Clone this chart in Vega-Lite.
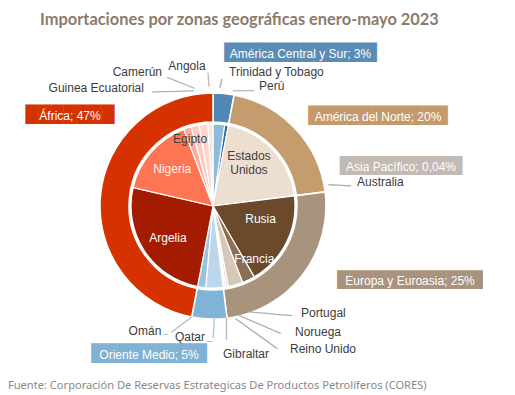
{
  "$schema": "https://vega.github.io/schema/vega-lite/v6.json",
  "autosize": {"type": "pad"},
  "padding": {"left": 0, "top": 11, "right": 0, "bottom": 0},
  "background": "white",
  "title": {"text": "Importaciones por zonas geográficas enero-mayo 2023", "anchor": "start", "dx": 40, "font": "Lato", "fontSize": 16.4, "fontWeight": "bold", "color": "#8b7b6b", "offset": 16},
  "config": {"view": {"stroke": null}, "concat": {"spacing": 0}},
  "datasets": {
    "regions": [
      {"n": 1, "name": "América Central y Sur", "pct": 3, "label": "América Central y Sur; 3%"},
      {"n": 2, "name": "América del Norte", "pct": 20, "label": "América del Norte; 20%"},
      {"n": 3, "name": "Asia Pacífico", "pct": 0.04, "label": "Asia Pacífico; 0,04%"},
      {"n": 4, "name": "Europa y Euroasia", "pct": 25, "label": "Europa y Euroasia; 25%"},
      {"n": 5, "name": "Oriente Medio", "pct": 5, "label": "Oriente Medio; 5%"},
      {"n": 6, "name": "África", "pct": 47, "label": "África; 47%"}
    ],
    "countries": [
      {"n": 1, "name": "Trinidad y Tobago", "region": "América Central y Sur", "pct": 2.3},
      {"n": 2, "name": "Perú", "region": "América Central y Sur", "pct": 0.7},
      {"n": 3, "name": "Estados Unidos", "region": "América del Norte", "pct": 20},
      {"n": 4, "name": "Australia", "region": "Asia Pacífico", "pct": 0.04},
      {"n": 5, "name": "Rusia", "region": "Europa y Euroasia", "pct": 18.6},
      {"n": 6, "name": "Francia", "region": "Europa y Euroasia", "pct": 2.5},
      {"n": 7, "name": "Portugal", "region": "Europa y Euroasia", "pct": 2.9},
      {"n": 8, "name": "Noruega", "region": "Europa y Euroasia", "pct": 0.5},
      {"n": 9, "name": "Reino Unido", "region": "Europa y Euroasia", "pct": 0.3},
      {"n": 10, "name": "Gibraltar", "region": "Europa y Euroasia", "pct": 0.2},
      {"n": 11, "name": "Qatar", "region": "Oriente Medio", "pct": 3.4},
      {"n": 12, "name": "Omán", "region": "Oriente Medio", "pct": 1.6},
      {"n": 13, "name": "Argelia", "region": "África", "pct": 25.6},
      {"n": 14, "name": "Nigeria", "region": "África", "pct": 15.6},
      {"n": 15, "name": "Egipto", "region": "África", "pct": 1.5},
      {"n": 16, "name": "Guinea Ecuatorial", "region": "África", "pct": 1.6},
      {"n": 17, "name": "Camerún", "region": "África", "pct": 1.7},
      {"n": 18, "name": "Angola", "region": "África", "pct": 1.0}
    ]
  },
  "vconcat": [
    {
      "width": 426,
      "height": 324,
      "title": {"text": "Fuente: Corporación De Reservas Estrategicas De Productos Petrolíferos (CORES)", "orient": "bottom", "anchor": "start", "dx": 8, "font": "Noto Sans", "fontSize": 11.1, "fontWeight": "normal", "color": "#8a8784", "offset": 12},
      "layer": [
        {"data": {"name": "regions"}, "mark": {"type": "arc", "innerRadius": 84, "outerRadius": 113, "stroke": "#ffffff", "strokeWidth": 1.5},
         "encoding": {"theta": {"field": "pct", "type": "quantitative", "stack": true}, "order": {"field": "n", "type": "quantitative"},
           "color": {"field": "name", "type": "nominal", "legend": null, "scale": {
             "domain": ["América Central y Sur", "América del Norte", "Asia Pacífico", "Europa y Euroasia", "Oriente Medio", "África", "Trinidad y Tobago", "Perú", "Estados Unidos", "Australia", "Rusia", "Francia", "Portugal", "Noruega", "Reino Unido", "Gibraltar", "Qatar", "Omán", "Argelia", "Nigeria", "Egipto", "Guinea Ecuatorial", "Camerún", "Angola"],
             "range": ["#4f88b4", "#c59c6d", "#bdb5ad", "#a8937d", "#80b3d6", "#d63200", "#8fbad9", "#2d6a9a", "#eddfd0", "#bdb5ad", "#6a4a2b", "#8c6e51", "#d6c8b9", "#e9dfd5", "#c8b7a5", "#f0e8e0", "#bcd7eb", "#98c2e0", "#a31b00", "#ff7452", "#f8ad9e", "#fbcbc0", "#fcd6cd", "#fde5df"]}}}},
        {"data": {"name": "countries"}, "mark": {"type": "arc", "outerRadius": 82, "stroke": "#ffffff", "strokeWidth": 1.2},
         "encoding": {"theta": {"field": "pct", "type": "quantitative", "stack": true}, "order": {"field": "n", "type": "quantitative"},
           "color": {"field": "name", "type": "nominal", "legend": null}}},

        {"data": {"name": "countries"}, "mark": {"type": "text", "radius": 52, "dx": -2, "dy": -14, "align": "center", "baseline": "middle", "font": "Liberation Sans", "fontSize": 12, "fill": "#404040", "lineBreak": " ", "lineHeight": 14},
         "encoding": {"theta": {"field": "pct", "type": "quantitative", "stack": true}, "order": {"field": "n", "type": "quantitative"}, "text": {"field": "name"}, "opacity": {"condition": {"test": "datum.name === 'Estados Unidos'", "value": 1}, "value": 0}}},
        {"data": {"name": "countries"}, "mark": {"type": "text", "radius": 52, "dx": 1, "dy": -10.5, "align": "center", "baseline": "middle", "font": "Liberation Sans", "fontSize": 12, "fill": "#ffffff"},
         "encoding": {"theta": {"field": "pct", "type": "quantitative", "stack": true}, "order": {"field": "n", "type": "quantitative"}, "text": {"field": "name"}, "opacity": {"condition": {"test": "datum.name === 'Rusia'", "value": 1}, "value": 0}}},
        {"data": {"name": "countries"}, "mark": {"type": "text", "radius": 70, "dx": 11, "dy": -10, "align": "center", "baseline": "middle", "font": "Liberation Sans", "fontSize": 12, "fill": "#ffffff"},
         "encoding": {"theta": {"field": "pct", "type": "quantitative", "stack": true}, "order": {"field": "n", "type": "quantitative"}, "text": {"field": "name"}, "opacity": {"condition": {"test": "datum.name === 'Francia'", "value": 1}, "value": 0}}},
        {"data": {"name": "countries"}, "mark": {"type": "text", "radius": 55, "dx": 1, "dy": 2, "align": "center", "baseline": "middle", "font": "Liberation Sans", "fontSize": 12, "fill": "#ffffff"},
         "encoding": {"theta": {"field": "pct", "type": "quantitative", "stack": true}, "order": {"field": "n", "type": "quantitative"}, "text": {"field": "name"}, "opacity": {"condition": {"test": "datum.name === 'Argelia'", "value": 1}, "value": 0}}},
        {"data": {"name": "countries"}, "mark": {"type": "text", "radius": 54, "dx": 0, "dy": -1.5, "align": "center", "baseline": "middle", "font": "Liberation Sans", "fontSize": 12, "fill": "#fff4f0"},
         "encoding": {"theta": {"field": "pct", "type": "quantitative", "stack": true}, "order": {"field": "n", "type": "quantitative"}, "text": {"field": "name"}, "opacity": {"condition": {"test": "datum.name === 'Nigeria'", "value": 1}, "value": 0}}},
        {"data": {"name": "countries"}, "mark": {"type": "text", "radius": 67, "dx": -2, "dy": -3, "align": "center", "baseline": "middle", "font": "Liberation Sans", "fontSize": 12, "fill": "#404040"},
         "encoding": {"theta": {"field": "pct", "type": "quantitative", "stack": true}, "order": {"field": "n", "type": "quantitative"}, "text": {"field": "name"}, "opacity": {"condition": {"test": "datum.name === 'Egipto'", "value": 1}, "value": 0}}},

        {"data": {"name": "countries"}, "transform": [{"stack": "pct", "groupby": [], "sort": [{"field": "n", "order": "ascending"}], "as": ["s0", "s1"]}, {"filter": "datum.name === 'Guinea Ecuatorial'"}],
         "mark": {"type": "text", "radius": 125, "dx": -6.87, "dy": 5.68, "angle": 358.2, "align": "center", "baseline": "middle", "font": "DejaVu Sans", "fontSize": 11.67, "fill": "#a8a8a8"},
         "encoding": {"theta": {"field": "s0", "type": "quantitative", "stack": null}, "text": {"value": "──────"}}},
        {"data": {"name": "countries"}, "transform": [{"stack": "pct", "groupby": [], "sort": [{"field": "n", "order": "ascending"}], "as": ["s0", "s1"]}, {"filter": "datum.name === 'Camerún'"}],
         "mark": {"type": "text", "radius": 125, "dx": -10.33, "dy": 4.31, "angle": 21.7, "align": "center", "baseline": "middle", "font": "DejaVu Sans", "fontSize": 12.29, "fill": "#a8a8a8"},
         "encoding": {"theta": {"field": "s0", "type": "quantitative", "stack": null}, "text": {"value": "────"}}},
        {"data": {"name": "countries"}, "transform": [{"stack": "pct", "groupby": [], "sort": [{"field": "n", "order": "ascending"}], "as": ["s0", "s1"]}, {"filter": "datum.name === 'Angola'"}],
         "mark": {"type": "text", "radius": 125, "dx": -1.32, "dy": -2.44, "angle": 85.4, "align": "center", "baseline": "middle", "font": "DejaVu Sans", "fontSize": 11.4, "fill": "#a8a8a8"},
         "encoding": {"theta": {"field": "s0", "type": "quantitative", "stack": null}, "text": {"value": "──"}}},
        {"data": {"name": "countries"}, "transform": [{"stack": "pct", "groupby": [], "sort": [{"field": "n", "order": "ascending"}], "as": ["s0", "s1"]}, {"filter": "datum.name === 'Trinidad y Tobago'"}],
         "mark": {"type": "text", "radius": 125, "dx": 0.43, "dy": -7.25, "angle": 102.5, "align": "center", "baseline": "middle", "font": "DejaVu Sans", "fontSize": 14.4, "fill": "#a8a8a8"},
         "encoding": {"theta": {"field": "s0", "type": "quantitative", "stack": null}, "text": {"value": "─"}}},
        {"data": {"name": "countries"}, "transform": [{"stack": "pct", "groupby": [], "sort": [{"field": "n", "order": "ascending"}], "as": ["s0", "s1"]}, {"filter": "datum.name === 'Perú'"}],
         "mark": {"type": "text", "radius": 125, "dx": 12.5, "dy": 8.6, "angle": 0, "align": "center", "baseline": "middle", "font": "DejaVu Sans", "fontSize": 11.67, "fill": "#a8a8a8"},
         "encoding": {"theta": {"field": "s0", "type": "quantitative", "stack": null}, "text": {"value": "───"}}},
        {"data": {"name": "countries"}, "transform": [{"stack": "pct", "groupby": [], "sort": [{"field": "n", "order": "ascending"}], "as": ["s0", "s1"]}, {"filter": "datum.name === 'Australia'"}],
         "mark": {"type": "text", "radius": 125, "dx": 2.19, "dy": -4.8, "angle": 3.35, "align": "center", "baseline": "middle", "font": "DejaVu Sans", "fontSize": 12.56, "fill": "#a8a8a8"},
         "encoding": {"theta": {"field": "s0", "type": "quantitative", "stack": null}, "text": {"value": "───"}}},
        {"data": {"name": "countries"}, "transform": [{"stack": "pct", "groupby": [], "sort": [{"field": "n", "order": "ascending"}], "as": ["s0", "s1"]}, {"filter": "datum.name === 'Portugal'"}],
         "mark": {"type": "text", "radius": 125, "dx": 10.23, "dy": -9.49, "angle": 4.9, "align": "center", "baseline": "middle", "font": "DejaVu Sans", "fontSize": 12.65, "fill": "#a8a8a8"},
         "encoding": {"theta": {"field": "s0", "type": "quantitative", "stack": null}, "text": {"value": "──────"}}},
        {"data": {"name": "countries"}, "transform": [{"stack": "pct", "groupby": [], "sort": [{"field": "n", "order": "ascending"}], "as": ["s0", "s1"]}, {"filter": "datum.name === 'Noruega'"}],
         "mark": {"type": "text", "radius": 125, "dx": 19.94, "dy": -13.05, "angle": 23.57, "align": "center", "baseline": "middle", "font": "DejaVu Sans", "fontSize": 12.6, "fill": "#a8a8a8"},
         "encoding": {"theta": {"field": "s0", "type": "quantitative", "stack": null}, "text": {"value": "──────"}}},
        {"data": {"name": "countries"}, "transform": [{"stack": "pct", "groupby": [], "sort": [{"field": "n", "order": "ascending"}], "as": ["s0", "s1"]}, {"filter": "datum.name === 'Reino Unido'"}],
         "mark": {"type": "text", "radius": 125, "dx": 22.02, "dy": -10.43, "angle": 35.77, "align": "center", "baseline": "middle", "font": "DejaVu Sans", "fontSize": 12.17, "fill": "#a8a8a8"},
         "encoding": {"theta": {"field": "s0", "type": "quantitative", "stack": null}, "text": {"value": "───────"}}},
        {"data": {"name": "countries"}, "transform": [{"stack": "pct", "groupby": [], "sort": [{"field": "n", "order": "ascending"}], "as": ["s0", "s1"]}, {"filter": "datum.name === 'Gibraltar'"}],
         "mark": {"type": "text", "radius": 125, "dx": -1.3, "dy": 3.9, "angle": 90, "align": "center", "baseline": "middle", "font": "DejaVu Sans", "fontSize": 12.28, "fill": "#a8a8a8"},
         "encoding": {"theta": {"field": "s0", "type": "quantitative", "stack": null}, "text": {"value": "───"}}},
        {"data": {"name": "countries"}, "transform": [{"stack": "pct", "groupby": [], "sort": [{"field": "n", "order": "ascending"}], "as": ["s0", "s1"]}, {"filter": "datum.name === 'Qatar'"}],
         "mark": {"type": "text", "radius": 125, "dx": -0.54, "dy": 15.59, "angle": 93.66, "align": "center", "baseline": "middle", "font": "DejaVu Sans", "fontSize": 10.83, "fill": "#a8a8a8"},
         "encoding": {"theta": {"field": "s0", "type": "quantitative", "stack": null}, "text": {"value": "───"}}},
        {"data": {"name": "countries"}, "transform": [{"stack": "pct", "groupby": [], "sort": [{"field": "n", "order": "ascending"}], "as": ["s0", "s1"]}, {"filter": "datum.name === 'Qatar'"}],
         "mark": {"type": "text", "radius": 125, "dx": -18.8, "dy": 11.5, "angle": 0, "align": "center", "baseline": "middle", "font": "DejaVu Sans", "fontSize": 9, "fill": "#a8a8a8"},
         "encoding": {"theta": {"field": "s0", "type": "quantitative", "stack": null}, "text": {"value": "─"}}},
        {"data": {"name": "countries"}, "transform": [{"stack": "pct", "groupby": [], "sort": [{"field": "n", "order": "ascending"}], "as": ["s0", "s1"]}, {"filter": "datum.name === 'Omán'"}],
         "mark": {"type": "text", "radius": 125, "dx": 12.49, "dy": 17.6, "angle": 143.17, "align": "center", "baseline": "middle", "font": "DejaVu Sans", "fontSize": 10.82, "fill": "#a8a8a8"},
         "encoding": {"theta": {"field": "s0", "type": "quantitative", "stack": null}, "text": {"value": "────"}}},
        {"data": {"name": "countries"}, "transform": [{"stack": "pct", "groupby": [], "sort": [{"field": "n", "order": "ascending"}], "as": ["s0", "s1"]}, {"filter": "datum.name === 'Omán'"}],
         "mark": {"type": "text", "radius": 125, "dx": -36.1, "dy": 4.2, "angle": 0, "align": "center", "baseline": "middle", "font": "DejaVu Sans", "fontSize": 8, "fill": "#a8a8a8"},
         "encoding": {"theta": {"field": "s0", "type": "quantitative", "stack": null}, "text": {"value": "─"}}},

        {"data": {"name": "countries"}, "transform": [{"stack": "pct", "groupby": [], "sort": [{"field": "n", "order": "ascending"}], "as": ["s0", "s1"]}, {"filter": "datum.name === 'Guinea Ecuatorial'"}],
         "mark": {"type": "text", "radius": 125, "dx": -35.7, "dy": 2.5, "align": "right", "baseline": "middle", "font": "Liberation Sans", "fontSize": 12, "fill": "#3c3c3c"},
         "encoding": {"theta": {"field": "s0", "type": "quantitative", "stack": null}, "text": {"field": "name"}}},
        {"data": {"name": "countries"}, "transform": [{"stack": "pct", "groupby": [], "sort": [{"field": "n", "order": "ascending"}], "as": ["s0", "s1"]}, {"filter": "datum.name === 'Camerún'"}],
         "mark": {"type": "text", "radius": 125, "dx": -29.9, "dy": -10.8, "align": "right", "baseline": "middle", "font": "Liberation Sans", "fontSize": 12, "fill": "#3c3c3c"},
         "encoding": {"theta": {"field": "s0", "type": "quantitative", "stack": null}, "text": {"field": "name"}}},
        {"data": {"name": "countries"}, "transform": [{"stack": "pct", "groupby": [], "sort": [{"field": "n", "order": "ascending"}], "as": ["s0", "s1"]}, {"filter": "datum.name === 'Angola'"}],
         "mark": {"type": "text", "radius": 125, "dx": -18.2, "dy": -15.3, "align": "center", "baseline": "middle", "font": "Liberation Sans", "fontSize": 12, "fill": "#3c3c3c"},
         "encoding": {"theta": {"field": "s0", "type": "quantitative", "stack": null}, "text": {"field": "name"}}},
        {"data": {"name": "countries"}, "transform": [{"stack": "pct", "groupby": [], "sort": [{"field": "n", "order": "ascending"}], "as": ["s0", "s1"]}, {"filter": "datum.name === 'Trinidad y Tobago'"}],
         "mark": {"type": "text", "radius": 125, "dx": 16, "dy": -9, "align": "left", "baseline": "middle", "font": "Liberation Sans", "fontSize": 12, "fill": "#3c3c3c"},
         "encoding": {"theta": {"field": "s0", "type": "quantitative", "stack": null}, "text": {"field": "name"}}},
        {"data": {"name": "countries"}, "transform": [{"stack": "pct", "groupby": [], "sort": [{"field": "n", "order": "ascending"}], "as": ["s0", "s1"]}, {"filter": "datum.name === 'Perú'"}],
         "mark": {"type": "text", "radius": 125, "dx": 28, "dy": 3.7, "align": "left", "baseline": "middle", "font": "Liberation Sans", "fontSize": 12, "fill": "#3c3c3c"},
         "encoding": {"theta": {"field": "s0", "type": "quantitative", "stack": null}, "text": {"field": "name"}}},
        {"data": {"name": "countries"}, "transform": [{"stack": "pct", "groupby": [], "sort": [{"field": "n", "order": "ascending"}], "as": ["s0", "s1"]}, {"filter": "datum.name === 'Australia'"}],
         "mark": {"type": "text", "radius": 125, "dx": 20, "dy": -8.3, "align": "left", "baseline": "middle", "font": "Liberation Sans", "fontSize": 12, "fill": "#3c3c3c"},
         "encoding": {"theta": {"field": "s0", "type": "quantitative", "stack": null}, "text": {"field": "name"}}},
        {"data": {"name": "countries"}, "transform": [{"stack": "pct", "groupby": [], "sort": [{"field": "n", "order": "ascending"}], "as": ["s0", "s1"]}, {"filter": "datum.name === 'Portugal'"}],
         "mark": {"type": "text", "radius": 125, "dx": 42.9, "dy": -9.6, "align": "left", "baseline": "middle", "font": "Liberation Sans", "fontSize": 12, "fill": "#3c3c3c"},
         "encoding": {"theta": {"field": "s0", "type": "quantitative", "stack": null}, "text": {"field": "name"}}},
        {"data": {"name": "countries"}, "transform": [{"stack": "pct", "groupby": [], "sort": [{"field": "n", "order": "ascending"}], "as": ["s0", "s1"]}, {"filter": "datum.name === 'Noruega'"}],
         "mark": {"type": "text", "radius": 125, "dx": 58.7, "dy": 3.2, "align": "left", "baseline": "middle", "font": "Liberation Sans", "fontSize": 12, "fill": "#3c3c3c"},
         "encoding": {"theta": {"field": "s0", "type": "quantitative", "stack": null}, "text": {"field": "name"}}},
        {"data": {"name": "countries"}, "transform": [{"stack": "pct", "groupby": [], "sort": [{"field": "n", "order": "ascending"}], "as": ["s0", "s1"]}, {"filter": "datum.name === 'Reino Unido'"}],
         "mark": {"type": "text", "radius": 125, "dx": 57.6, "dy": 19.5, "align": "left", "baseline": "middle", "font": "Liberation Sans", "fontSize": 12, "fill": "#3c3c3c"},
         "encoding": {"theta": {"field": "s0", "type": "quantitative", "stack": null}, "text": {"field": "name"}}},
        {"data": {"name": "countries"}, "transform": [{"stack": "pct", "groupby": [], "sort": [{"field": "n", "order": "ascending"}], "as": ["s0", "s1"]}, {"filter": "datum.name === 'Gibraltar'"}],
         "mark": {"type": "text", "radius": 125, "dx": 15.9, "dy": 24.2, "align": "center", "baseline": "middle", "font": "Liberation Sans", "fontSize": 12, "fill": "#3c3c3c"},
         "encoding": {"theta": {"field": "s0", "type": "quantitative", "stack": null}, "text": {"field": "name"}}},
        {"data": {"name": "countries"}, "transform": [{"stack": "pct", "groupby": [], "sort": [{"field": "n", "order": "ascending"}], "as": ["s0", "s1"]}, {"filter": "datum.name === 'Qatar'"}],
         "mark": {"type": "text", "radius": 125, "dx": -38.5, "dy": 7, "align": "center", "baseline": "middle", "font": "Liberation Sans", "fontSize": 12, "fill": "#3c3c3c"},
         "encoding": {"theta": {"field": "s0", "type": "quantitative", "stack": null}, "text": {"field": "name"}}},
        {"data": {"name": "countries"}, "transform": [{"stack": "pct", "groupby": [], "sort": [{"field": "n", "order": "ascending"}], "as": ["s0", "s1"]}, {"filter": "datum.name === 'Omán'"}],
         "mark": {"type": "text", "radius": 125, "dx": -56.9, "dy": 0.5, "align": "center", "baseline": "middle", "font": "Liberation Sans", "fontSize": 12, "fill": "#3c3c3c"},
         "encoding": {"theta": {"field": "s0", "type": "quantitative", "stack": null}, "text": {"field": "name"}}},

        {"data": {"name": "regions"}, "transform": [{"stack": "pct", "groupby": [], "sort": [{"field": "n", "order": "ascending"}], "as": ["s0", "s1"]}, {"filter": "datum.name === 'América Central y Sur'"}],
         "mark": {"type": "text", "radius": 125, "dx": 87.5, "dy": -28.2, "align": "center", "baseline": "middle", "font": "DejaVu Sans", "fontSize": 16.54, "fill": "#5a8cb5"},
         "encoding": {"theta": {"field": "s0", "type": "quantitative", "stack": null}, "text": {"value": "████████████"}}},
        {"data": {"name": "regions"}, "transform": [{"stack": "pct", "groupby": [], "sort": [{"field": "n", "order": "ascending"}], "as": ["s0", "s1"]}, {"filter": "datum.name === 'América Central y Sur'"}],
         "mark": {"type": "text", "radius": 125, "dx": 87.5, "dy": -27.2, "align": "center", "baseline": "middle", "font": "Liberation Sans", "fontSize": 12, "fill": "#ffffff"},
         "encoding": {"theta": {"field": "s0", "type": "quantitative", "stack": null}, "text": {"field": "label"}}},

        {"data": {"name": "regions"}, "transform": [{"stack": "pct", "groupby": [], "sort": [{"field": "n", "order": "ascending"}], "as": ["s0", "s1"]}, {"filter": "datum.name === 'América del Norte'"}],
         "mark": {"type": "text", "radius": 125, "dx": 141.6, "dy": 33.1, "align": "center", "baseline": "middle", "font": "DejaVu Sans", "fontSize": 16.51, "fill": "#c49a6c"},
         "encoding": {"theta": {"field": "s0", "type": "quantitative", "stack": null}, "text": {"value": "███████████"}}},
        {"data": {"name": "regions"}, "transform": [{"stack": "pct", "groupby": [], "sort": [{"field": "n", "order": "ascending"}], "as": ["s0", "s1"]}, {"filter": "datum.name === 'América del Norte'"}],
         "mark": {"type": "text", "radius": 125, "dx": 141.6, "dy": 34.1, "align": "center", "baseline": "middle", "font": "Liberation Sans", "fontSize": 12, "fill": "#ffffff"},
         "encoding": {"theta": {"field": "s0", "type": "quantitative", "stack": null}, "text": {"field": "label"}}},

        {"data": {"name": "regions"}, "transform": [{"stack": "pct", "groupby": [], "sort": [{"field": "n", "order": "ascending"}], "as": ["s0", "s1"]}, {"filter": "datum.name === 'Asia Pacífico'"}],
         "mark": {"type": "text", "radius": 125, "dx": 64, "dy": -24.5, "align": "center", "baseline": "middle", "font": "DejaVu Sans", "fontSize": 15.95, "fill": "#c2bab3"},
         "encoding": {"theta": {"field": "s0", "type": "quantitative", "stack": null}, "text": {"value": "██████████"}}},
        {"data": {"name": "regions"}, "transform": [{"stack": "pct", "groupby": [], "sort": [{"field": "n", "order": "ascending"}], "as": ["s0", "s1"]}, {"filter": "datum.name === 'Asia Pacífico'"}],
         "mark": {"type": "text", "radius": 125, "dx": 64, "dy": -23.5, "align": "center", "baseline": "middle", "font": "Liberation Sans", "fontSize": 12, "fill": "#ffffff"},
         "encoding": {"theta": {"field": "s0", "type": "quantitative", "stack": null}, "text": {"field": "label"}}},

        {"data": {"name": "regions"}, "transform": [{"stack": "pct", "groupby": [], "sort": [{"field": "n", "order": "ascending"}], "as": ["s0", "s1"]}, {"filter": "datum.name === 'Europa y Euroasia'"}],
         "mark": {"type": "text", "radius": 125, "dx": 73, "dy": 89.2, "align": "center", "baseline": "middle", "font": "DejaVu Sans", "fontSize": 15.78, "fill": "#a8937e"},
         "encoding": {"theta": {"field": "s0", "type": "quantitative", "stack": null}, "text": {"value": "████████████"}}},
        {"data": {"name": "regions"}, "transform": [{"stack": "pct", "groupby": [], "sort": [{"field": "n", "order": "ascending"}], "as": ["s0", "s1"]}, {"filter": "datum.name === 'Europa y Euroasia'"}],
         "mark": {"type": "text", "radius": 125, "dx": 73, "dy": 90.2, "align": "center", "baseline": "middle", "font": "Liberation Sans", "fontSize": 12, "fill": "#ffffff"},
         "encoding": {"theta": {"field": "s0", "type": "quantitative", "stack": null}, "text": {"field": "label"}}},

        {"data": {"name": "regions"}, "transform": [{"stack": "pct", "groupby": [], "sort": [{"field": "n", "order": "ascending"}], "as": ["s0", "s1"]}, {"filter": "datum.name === 'Oriente Medio'"}],
         "mark": {"type": "text", "radius": 125, "dx": -79.5, "dy": 24.3, "align": "center", "baseline": "middle", "font": "DejaVu Sans", "fontSize": 16.7, "fill": "#7fb2d4"},
         "encoding": {"theta": {"field": "s0", "type": "quantitative", "stack": null}, "text": {"value": "█████████"}}},
        {"data": {"name": "regions"}, "transform": [{"stack": "pct", "groupby": [], "sort": [{"field": "n", "order": "ascending"}], "as": ["s0", "s1"]}, {"filter": "datum.name === 'Oriente Medio'"}],
         "mark": {"type": "text", "radius": 125, "dx": -79.5, "dy": 25.3, "align": "center", "baseline": "middle", "font": "Liberation Sans", "fontSize": 12, "fill": "#ffffff"},
         "encoding": {"theta": {"field": "s0", "type": "quantitative", "stack": null}, "text": {"field": "label"}}},

        {"data": {"name": "regions"}, "transform": [{"stack": "pct", "groupby": [], "sort": [{"field": "n", "order": "ascending"}], "as": ["s0", "s1"]}, {"filter": "datum.name === 'África'"}],
         "mark": {"type": "text", "radius": 125, "dx": -143, "dy": 34.3, "align": "center", "baseline": "middle", "font": "DejaVu Sans", "fontSize": 16.5, "fill": "#d63200"},
         "encoding": {"theta": {"field": "s1", "type": "quantitative", "stack": null}, "text": {"value": "███████"}}},
        {"data": {"name": "regions"}, "transform": [{"stack": "pct", "groupby": [], "sort": [{"field": "n", "order": "ascending"}], "as": ["s0", "s1"]}, {"filter": "datum.name === 'África'"}],
         "mark": {"type": "text", "radius": 125, "dx": -143, "dy": 35.3, "align": "center", "baseline": "middle", "font": "Liberation Sans", "fontSize": 12, "fill": "#ffffff"},
         "encoding": {"theta": {"field": "s1", "type": "quantitative", "stack": null}, "text": {"field": "label"}}}
      ]
    }
  ]
}
